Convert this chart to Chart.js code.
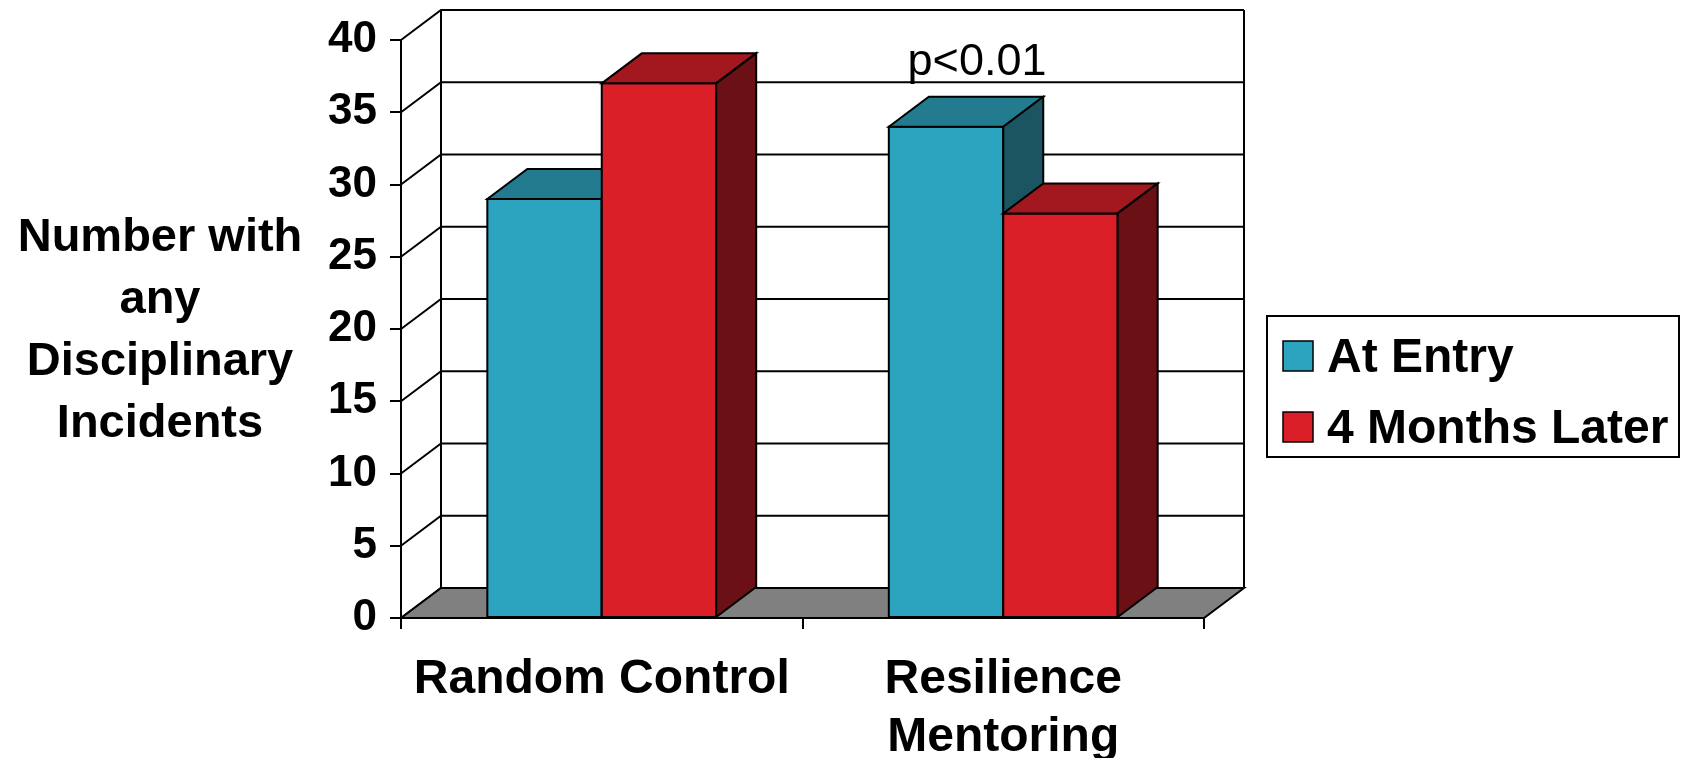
<!DOCTYPE html>
<html>
<head>
<meta charset="utf-8">
<script src="https://cdn.jsdelivr.net/npm/chart.js@4"></script>
<style>
  html, body { margin: 0; padding: 0; background: #fff; }
</style>
</head>
<body>
<canvas id="incidentChart" width="1686" height="758"></canvas>
<script>
  // data
  const categories = ['Random Control', ['Resilience', 'Mentoring']];
  const seriesNames = ['At Entry', '4 Months Later'];
  const atEntry = [29, 34];
  const fourMonthsLater = [37, 28];
  const yTicks = [0, 5, 10, 15, 20, 25, 30, 35, 40];
  const axisTitle = ['Number with', 'any', 'Disciplinary', 'Incidents'];
  const note = { category: 1, text: 'p<0.01' };

  // looks
  const FONT = "'Liberation Sans', Arial, sans-serif";
  const DX = 40, DY = 30; // depth of the 3d effect
  const faces = [
    { front: '#2ca3bf', top: '#237b8f', side: '#1a5561' },
    { front: '#da1f28', top: '#a3171f', side: '#6b1015' }
  ];

  function poly(ctx, pts, fill) {
    ctx.beginPath();
    ctx.moveTo(pts[0][0], pts[0][1]);
    for (let i = 1; i < pts.length; i++) ctx.lineTo(pts[i][0], pts[i][1]);
    ctx.closePath();
    ctx.fillStyle = fill;
    ctx.fill();
    ctx.stroke();
  }

  const box3d = {
    id: 'box3d',
    beforeDraw(chart) {
      const { ctx, chartArea: a, scales: { y } } = chart;
      ctx.save();
      ctx.lineWidth = 2;
      ctx.strokeStyle = '#000';
      // back wall gridlines + left wall diagonals
      yTicks.forEach(v => {
        const py = y.getPixelForValue(v);
        ctx.beginPath();
        ctx.moveTo(a.left, py);
        ctx.lineTo(a.left + DX, py - DY);
        ctx.lineTo(a.right + DX, py - DY);
        ctx.stroke();
      });
      ctx.beginPath();
      ctx.moveTo(a.left + DX, a.top - DY);
      ctx.lineTo(a.left + DX, a.bottom - DY);
      ctx.moveTo(a.right + DX, a.top - DY);
      ctx.lineTo(a.right + DX, a.bottom - DY);
      ctx.stroke();
      // floor
      poly(ctx, [[a.left, a.bottom], [a.right, a.bottom], [a.right + DX, a.bottom - DY], [a.left + DX, a.bottom - DY]], '#808080');
      ctx.restore();
    },
    afterDatasetsDraw(chart) {
      const ctx = chart.ctx;
      const metas = chart.data.datasets.map((d, i) => chart.getDatasetMeta(i));
      ctx.save();
      ctx.lineWidth = 2;
      ctx.strokeStyle = '#000';
      categories.forEach((c, ci) => {
        metas.forEach((m, di) => {
          const b = m.data[ci];
          const L = b.x - b.width / 2, R = b.x + b.width / 2, T = b.y, B = b.base;
          poly(ctx, [[L, T], [R, T], [R, B], [L, B]], faces[di].front);
          poly(ctx, [[L, T], [L + DX, T - DY], [R + DX, T - DY], [R, T]], faces[di].top);
          poly(ctx, [[R, T], [R + DX, T - DY], [R + DX, B - DY], [R, B]], faces[di].side);
        });
      });
      // significance note above the bars
      const nb = metas[0].data[note.category];
      ctx.fillStyle = '#000';
      ctx.font = '45px ' + FONT;
      ctx.textAlign = 'center';
      ctx.textBaseline = 'alphabetic';
      ctx.fillText(note.text, nb.x + 31, nb.y - DY - 22);
      ctx.restore();
    },
    afterDraw(chart) {
      const { ctx, chartArea: a } = chart;
      ctx.save();
      ctx.fillStyle = '#000';
      // horizontal y-axis title
      ctx.font = 'bold 47px ' + FONT;
      ctx.textAlign = 'center';
      ctx.textBaseline = 'alphabetic';
      const mid = (a.top + a.bottom) / 2;
      axisTitle.forEach((line, i) => {
        ctx.fillText(line, 160, mid - 78 + i * 62);
      });
      // legend
      ctx.lineWidth = 2;
      ctx.strokeStyle = '#000';
      ctx.strokeRect(1267, 316, 412, 141);
      ctx.font = 'bold 48px ' + FONT;
      ctx.textAlign = 'left';
      seriesNames.forEach((name, i) => {
        const top = 341 + i * 71;
        ctx.fillStyle = faces[i].front;
        ctx.fillRect(1283, top, 30, 30);
        ctx.lineWidth = 1.5;
        ctx.strokeRect(1283, top, 30, 30);
        ctx.fillStyle = '#000';
        ctx.fillText(name, 1327, top + 31);
      });
      ctx.restore();
    }
  };

  new Chart(document.getElementById('incidentChart'), {
    type: 'bar',
    data: {
      labels: categories,
      datasets: [
        { label: seriesNames[0], data: atEntry, backgroundColor: faces[0].front, borderColor: '#000', borderWidth: 2 },
        { label: seriesNames[1], data: fourMonthsLater, backgroundColor: faces[1].front, borderColor: '#000', borderWidth: 2 }
      ]
    },
    options: {
      responsive: false,
      animation: false,
      events: [],
      barPercentage: 1,
      categoryPercentage: 0.57,
      layout: { padding: { left: 0, top: 40, right: 482, bottom: 0 } },
      plugins: { legend: { display: false }, tooltip: { enabled: false } },
      scales: {
        x: {
          afterFit(scale) { scale.height = 140; },
          grid: { drawOnChartArea: false, tickLength: 11, color: '#000', lineWidth: 2 },
          border: { color: '#000', width: 2 },
          ticks: { color: '#000', padding: 22, font: { family: FONT, size: 48, weight: 'bold', lineHeight: 1.2 } }
        },
        y: {
          min: yTicks[0],
          max: yTicks[yTicks.length - 1],
          afterFit(scale) { scale.width = 401; },
          grid: { drawOnChartArea: false, tickLength: 11, color: '#000', lineWidth: 2 },
          border: { color: '#000', width: 2 },
          ticks: { stepSize: yTicks[1] - yTicks[0], color: '#000', padding: 13, font: { family: FONT, size: 44, weight: 'bold' } }
        }
      }
    },
    plugins: [box3d]
  });
</script>
</body>
</html>
